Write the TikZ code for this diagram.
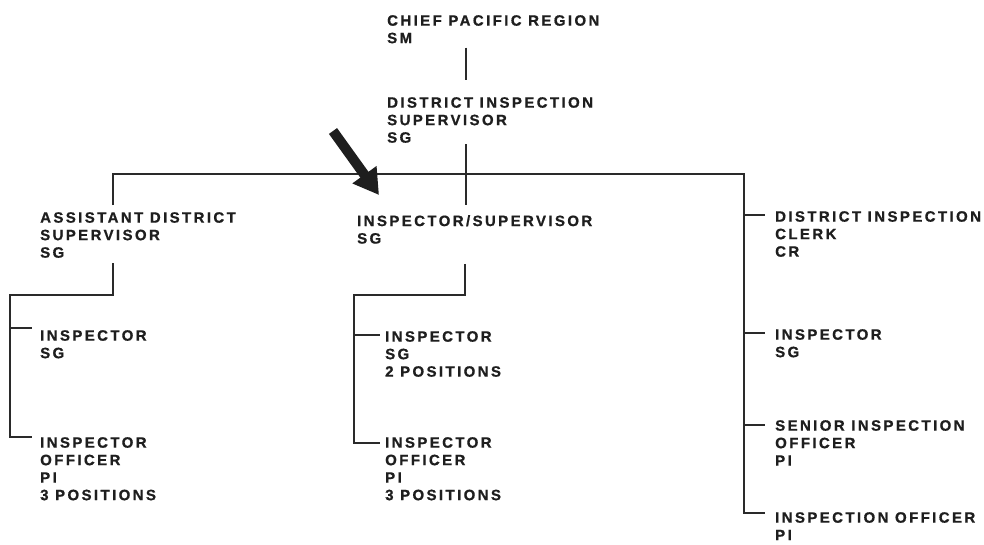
\documentclass[tikz,border=0pt]{standalone}
\usepackage{fontspec}
\newfontfamily\orgfont{Liberation Sans}[UprightFont={* Bold}, LetterSpace=16, FakeBold=0.8]
\usetikzlibrary{arrows.meta}
\definecolor{ink}{HTML}{1E1E1E}
\definecolor{wire}{HTML}{2A2A2A}
\tikzset{
  post/.style={anchor=north west, inner sep=0pt, align=left, text=ink,
    font=\orgfont\fontsize{15}{17.5}\selectfont},
  wireline/.style={draw=wire, line width=1.7pt, line join=miter},
}
\begin{document}
\begin{tikzpicture}[x=1pt,y=-1pt]
\useasboundingbox[fill=white] (0,0) rectangle (984,544);

% nodes
\node[post] (chief) at (387,15) {CHIEF PACIFIC REGION\\SM};
\node[post] (dis) at (387,97) {DISTRICT INSPECTION\\SUPERVISOR\\SG};
\node[post] (asst) at (40,212) {ASSISTANT DISTRICT\\SUPERVISOR\\SG};
\node[post] (insup) at (357,215) {INSPECTOR/SUPERVISOR\\SG};
\node[post] (lins) at (40,330) {INSPECTOR\\SG};
\node[post] (loff) at (40,437) {INSPECTOR\\OFFICER\\PI\\3 POSITIONS};
\node[post] (mins) at (385,331) {INSPECTOR\\SG\\2 POSITIONS};
\node[post] (moff) at (385,437) {INSPECTOR\\OFFICER\\PI\\3 POSITIONS};
\node[post] (rclerk) at (775,211) {DISTRICT INSPECTION\\CLERK\\CR};
\node[post] (rins) at (775,329) {INSPECTOR\\SG};
\node[post] (rsen) at (775,420) {SENIOR INSPECTION\\OFFICER\\PI};
\node[post] (roff) at (775,512) {INSPECTION OFFICER\\PI};

% spine coordinates
\coordinate (vx) at (466,0);
\coordinate (lx) at (113,0);
\coordinate (rx) at (744,0);
\coordinate (busy) at (0,174);
\coordinate (lsp) at (10,0);
\coordinate (lsy) at (0,295);
\coordinate (msp) at (354,0);
\coordinate (mx) at (465,0);

% chief -> district supervisor
\draw[wireline] ([yshift=-4pt]chief.south -| vx) -- ([yshift=17pt]dis.north -| vx);
% district supervisor -> inspector/supervisor
\draw[wireline] ([yshift=-1pt]dis.south -| vx) -- ([yshift=10pt]insup.north -| vx);
% bus
\draw[wireline] ([yshift=7pt]asst.north -| lx) -- (lx |- busy) -- (rx |- busy)
  -- ([yshift=-1pt]roff.north west -| rx) -- ([xshift=-10pt,yshift=-1pt]roff.north west);
% right ticks
\draw[wireline] ([yshift=-4pt]rclerk.north west -| rx) -- ([xshift=-10pt,yshift=-4pt]rclerk.north west);
\draw[wireline] ([yshift=-4pt]rins.north west -| rx) -- ([xshift=-10pt,yshift=-4pt]rins.north west);
\draw[wireline] ([yshift=-5pt]rsen.north west -| rx) -- ([xshift=-10pt,yshift=-5pt]rsen.north west);

% left branch
\draw[wireline] ([yshift=-5pt]asst.south -| lx) -- (lx |- lsy) -- (lsp |- lsy)
  -- (loff.north west -| lsp) -- ([xshift=-8pt]loff.north west);
\draw[wireline] ([yshift=2pt]lins.north west -| lsp) -- ([xshift=-8pt,yshift=2pt]lins.north west);

% middle branch
\draw[wireline] ([yshift=-20pt]insup.south -| mx) -- (mx |- lsy) -- (msp |- lsy)
  -- ([yshift=-6pt]moff.north west -| msp) -- ([xshift=-5pt,yshift=-6pt]moff.north west);
\draw[wireline] ([yshift=-4pt]mins.north west -| msp) -- ([xshift=-5pt,yshift=-4pt]mins.north west);

% pointer arrow
\coordinate (atail) at (333,131);
\coordinate (atip) at (379,195);
\draw[draw=ink, line width=10pt, -{Triangle[width=28pt,length=25pt]}] (atail) -- (atip);
\end{tikzpicture}
\end{document}
